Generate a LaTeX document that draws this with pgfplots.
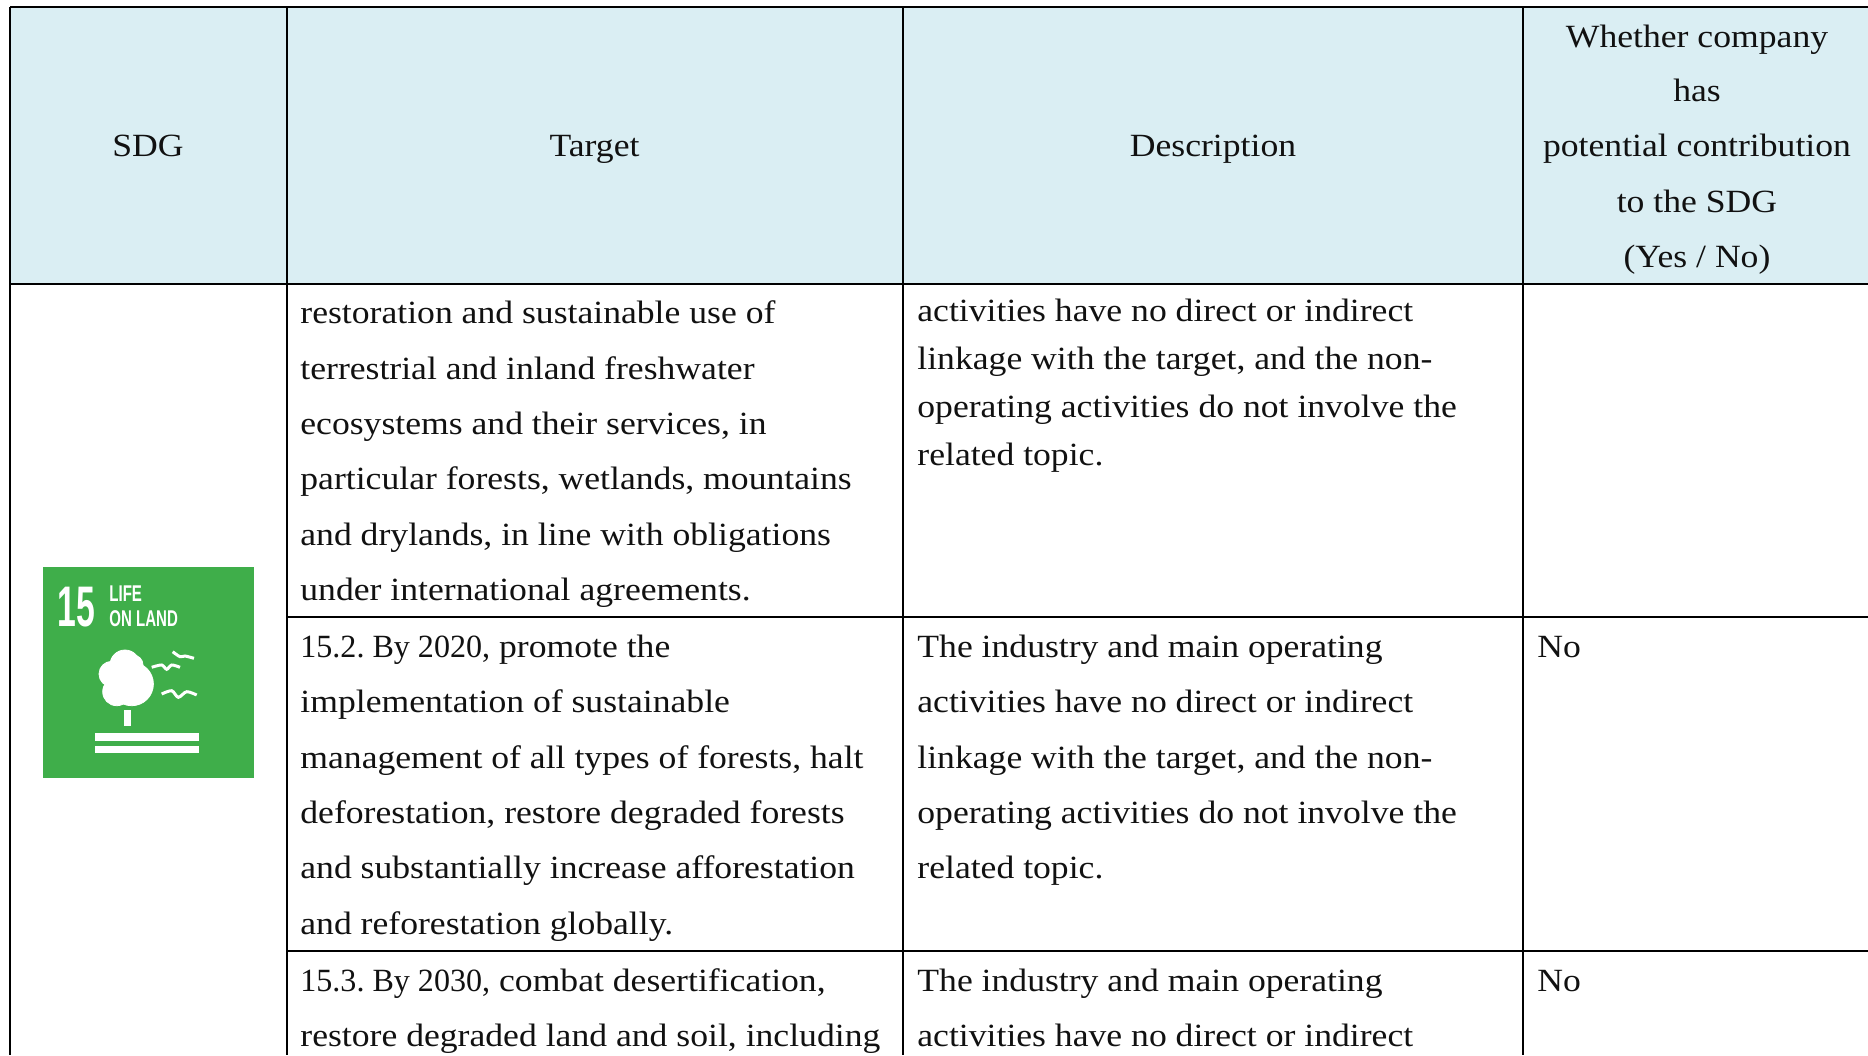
\documentclass[border=0pt]{standalone}
\usepackage{fontspec}
\usepackage{pgfplots}
\pgfplotsset{compat=1.18}
\setmainfont[FakeStretch=1.10]{Liberation Serif}
\newfontfamily\numfont[FakeStretch=0.99]{Liberation Serif}
\newfontfamily\iconnum[FakeStretch=0.59]{Liberation Sans}
\newfontfamily\iconfont[FakeStretch=0.66]{Liberation Sans}
\definecolor{headblue}{HTML}{DAEEF3}
\definecolor{sdggreen}{HTML}{3FAE4A}
\definecolor{ink}{HTML}{111111}
\newcommand\tl[3]{\node[anchor=base west,inner sep=0pt,text=ink] at (axis cs:#1,#2+1.2) {\tblfont #3};}
\newcommand\tc[3]{\node[anchor=base,inner sep=0pt,text=ink] at (axis cs:#1,#2+1.2) {\tblfont #3};}
\newcommand\tblfont{\fontsize{16.2}{18}\selectfont\frenchspacing}
\begin{document}
\begin{tikzpicture}
\begin{axis}[
  name=ax,
  scale only axis, width=934pt, height=527.5pt,
  xmin=0, xmax=1868, ymin=0, ymax=1055, y dir=reverse,
  hide axis, clip=true,
]
% header fill
\addplot[draw=none,fill=headblue] coordinates {(10,7) (1868,7) (1868,284) (10,284)} --cycle;
% rules
\addplot[black,line width=1.3pt] coordinates {(10,7) (1868,7)};
\addplot[black,line width=1.2pt] coordinates {(10,284) (1868,284)};
\addplot[black,line width=1pt] coordinates {(287,617) (1868,617)};
\addplot[black,line width=1pt] coordinates {(287,951) (1868,951)};
\addplot[black,line width=1pt] coordinates {(10,7) (10,1055)};
\addplot[black,line width=1pt] coordinates {(287,7) (287,1055)};
\addplot[black,line width=1pt] coordinates {(903,7) (903,1055)};
\addplot[black,line width=1pt] coordinates {(1523,7) (1523,1055)};
% icon
\addplot[draw=none,fill=sdggreen] coordinates {(43,567) (254,567) (254,778) (43,778)} --cycle;
\addplot[draw=none,fill=white] coordinates {(124,710) (131,710) (131,726) (124,726)} --cycle;
\addplot[draw=none,fill=white] coordinates {(95.3,733.3) (199.3,733.3) (199.3,740.5) (95.3,740.5)} --cycle;
\addplot[draw=none,fill=white] coordinates {(95.3,745.7) (199.3,745.7) (199.3,752.8) (95.3,752.8)} --cycle;
\addplot[only marks,mark=*,mark size=10.85pt,white] coordinates {(131.7,684)};
\addplot[only marks,mark=*,mark size=7pt,white] coordinates {(116.7,691.7)};
\addplot[only marks,mark=*,mark size=6.35pt,white] coordinates {(111.7,674)};
\addplot[only marks,mark=*,mark size=7.5pt,white] coordinates {(125,665)};
\addplot[only marks,mark=*,mark size=5pt,white] coordinates {(133,665)};
\addplot[white,line width=1.5pt,smooth] coordinates {(172.7,651.7) (180,656.7) (185,656) (194,658.3)};
\addplot[white,line width=1.5pt,smooth] coordinates {(151.7,667.3) (161.7,665) (166.7,669.3) (171.7,665) (180,667.3)};
\addplot[white,line width=1.5pt,smooth] coordinates {(161.7,694) (171.7,690.7) (178.3,697.3) (186.7,691.7) (196.7,695)};
\node[anchor=base west,inner sep=0pt,white] at (axis cs:57,626.7) {\iconnum\bfseries\fontsize{28.6}{30}\selectfont 15};
\node[anchor=base west,inner sep=0pt,white] at (axis cs:109,601.7) {\iconfont\bfseries\fontsize{11.4}{12}\selectfont LIFE};
\node[anchor=base west,inner sep=0pt,white] at (axis cs:109,626.7) {\iconfont\bfseries\fontsize{11.4}{12}\selectfont ON LAND};
% header
\tc{148}{155.7}{SDG}
\tc{594.5}{155.7}{Target}
\tc{1213}{155.7}{Description}
\tc{1697}{46}{Whether company}
\tc{1697}{100.7}{has}
\tc{1697}{155.7}{potential contribution}
\tc{1697}{211.7}{to the SDG}
\tc{1697}{266.7}{(Yes / No)}
% target col
\tl{300}{322.7}{restoration and sustainable use of}
\tl{300}{378}{terrestrial and inland freshwater}
\tl{300}{433.3}{ecosystems and their services, in}
\tl{300}{488.6}{particular forests, wetlands, mountains}
\tl{300}{543.9}{and drylands, in line with obligations}
\tl{300}{599.2}{under international agreements.}
\tl{300}{656.3}{{\numfont 15.2. By 2020,} promote the}
\tl{300}{711.6}{implementation of sustainable}
\tl{300}{766.9}{management of all types of forests, halt}
\tl{300}{822.2}{deforestation, restore degraded forests}
\tl{300}{877.5}{and substantially increase afforestation}
\tl{300}{932.8}{and reforestation globally.}
\tl{300}{989.9}{{\numfont 15.3. By 2030,} combat desertification,}
\tl{300}{1045.2}{restore degraded land and soil, including}
% description col
\tl{917}{320}{activities have no direct or indirect}
\tl{917}{368}{linkage with the target, and the non-}
\tl{917}{416}{operating activities do not involve the}
\tl{917}{464}{related topic.}
\tl{917}{656.3}{The industry and main operating}
\tl{917}{711.6}{activities have no direct or indirect}
\tl{917}{766.9}{linkage with the target, and the non-}
\tl{917}{822.2}{operating activities do not involve the}
\tl{917}{877.5}{related topic.}
\tl{917}{989.9}{The industry and main operating}
\tl{917}{1045.2}{activities have no direct or indirect}
% last col
\tl{1537}{656.3}{No}
\tl{1537}{989.9}{No}
\end{axis}
\pgfresetboundingbox
\useasboundingbox (ax.south west) rectangle (ax.north east);
\end{tikzpicture}
\end{document}
